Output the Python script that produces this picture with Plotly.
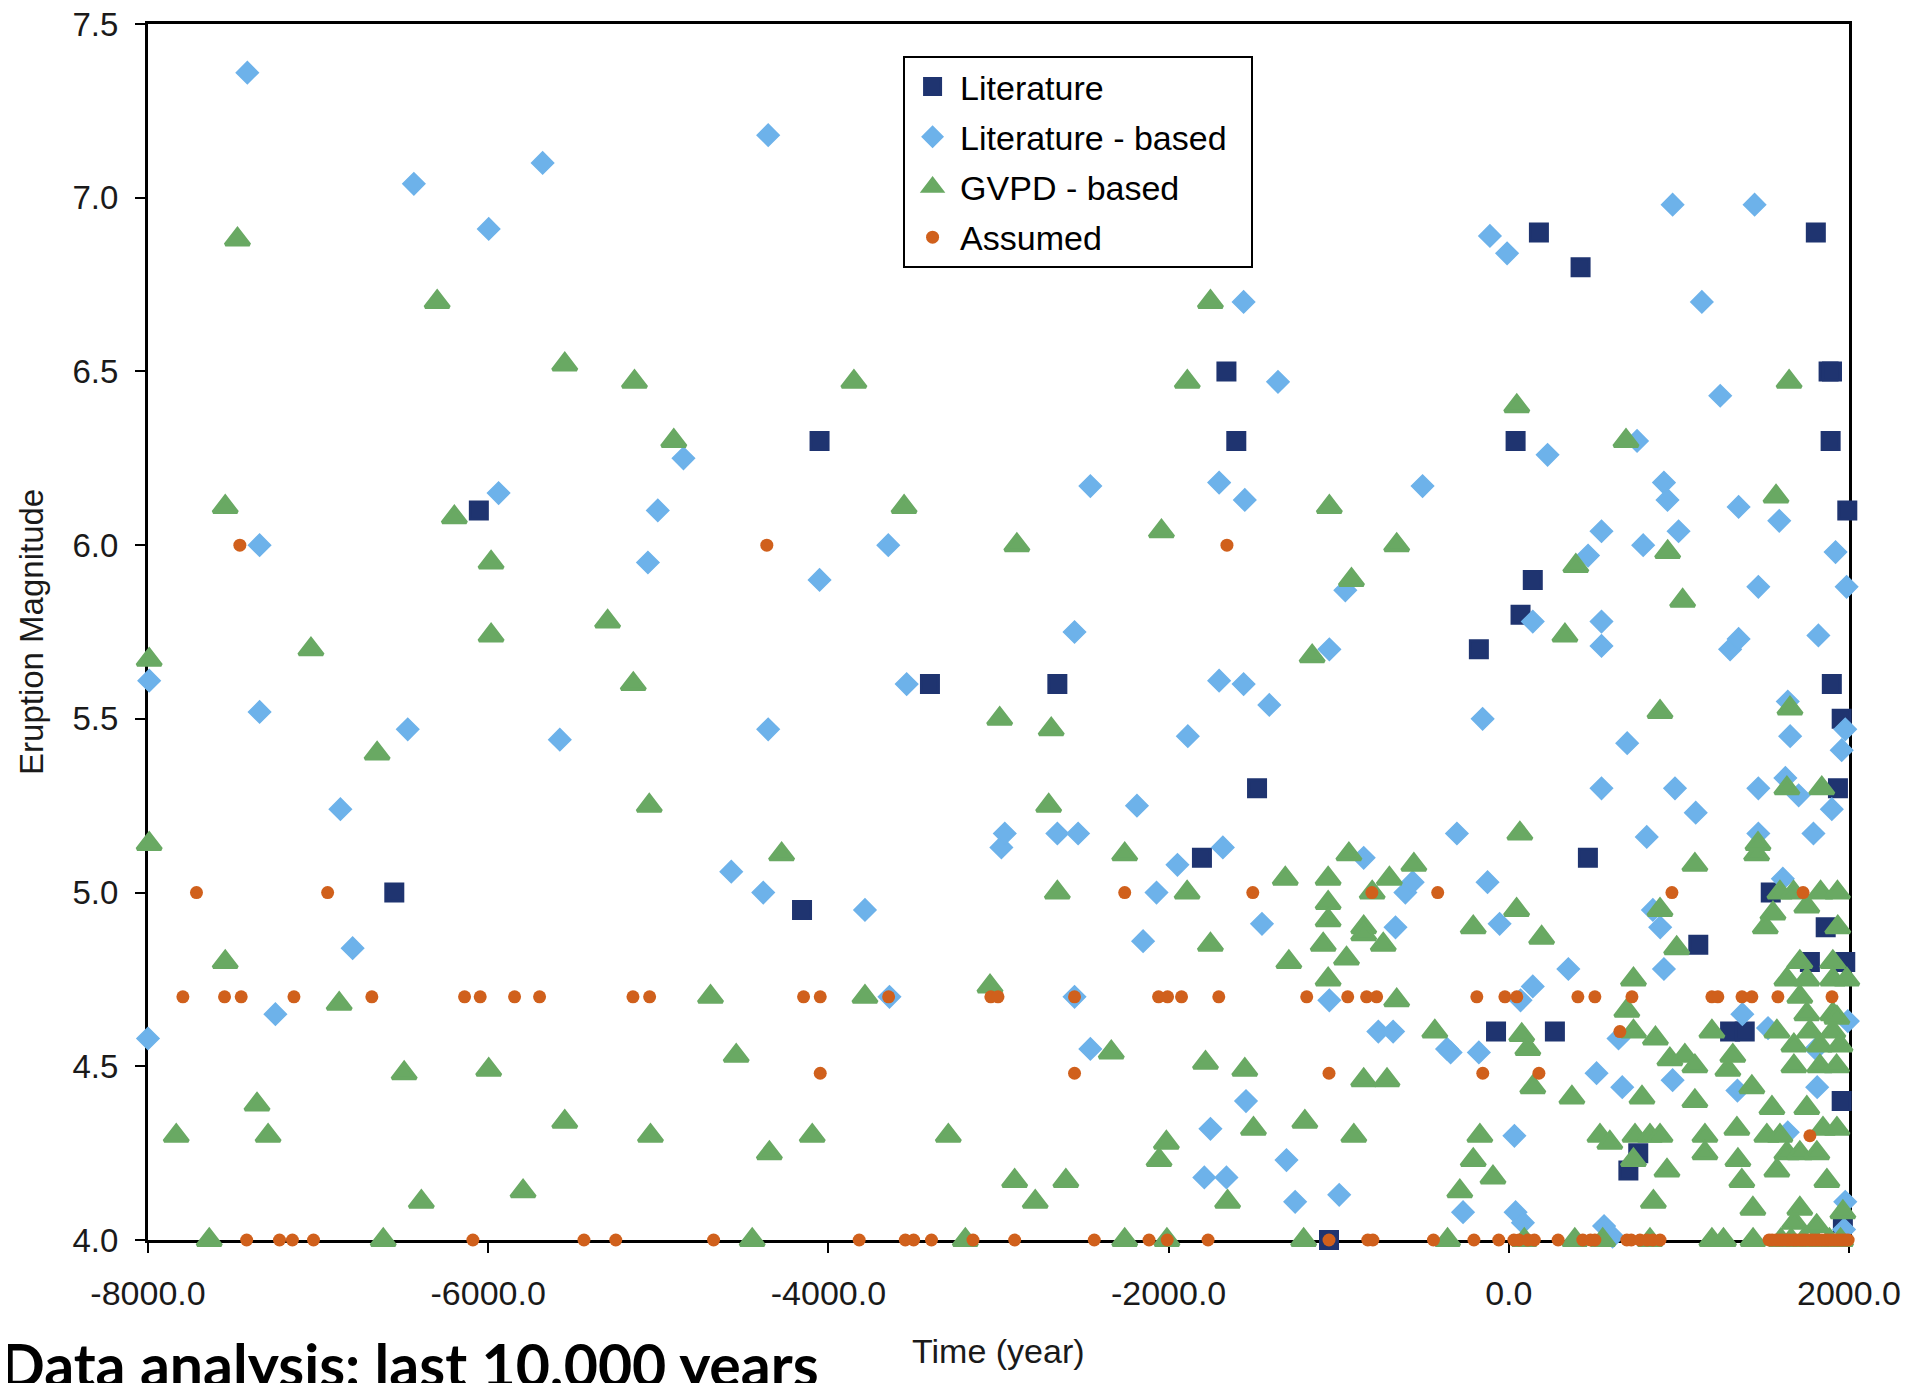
import plotly.graph_objects as go

# ---------------- data ----------------
series_names = ["Literature", "Literature - based", "GVPD - based", "Assumed"]

x_tick_vals = [-8000, -6000, -4000, -2000, 0, 2000]
x_tick_text = ["-8000.0", "-6000.0", "-4000.0", "-2000.0", "0.0", "2000.0"]
y_tick_vals = [4.0, 4.5, 5.0, 5.5, 6.0, 6.5, 7.0, 7.5]
y_tick_text = ["4.0", "4.5", "5.0", "5.5", "6.0", "6.5", "7.0", "7.5"]

lit_year = [-6552, -6055, -4155, -4052, -3403, -2654, -1804, -1660, -1602, -1480,
            -1057, -176, -75, 40, 69, 141, 177, 271, 422, 465,
            703, 761, 1114, 1301, 1387, 1540, 1770, 1805, 1863, 1880,
            1900, 1892, 1899, 1935, 1957, 1957, 1964, 1978, 1990]
lit_mag = [5.0, 6.1, 4.95, 6.3, 5.6, 5.6, 5.1, 6.5, 6.3, 5.3,
           4.0, 5.7, 4.6, 6.3, 5.8, 5.9, 6.9, 4.6, 6.8, 5.1,
           4.2, 4.25, 4.85, 4.6, 4.6, 5.0, 4.8, 6.9, 4.9, 6.5,
           6.5, 6.3, 5.6, 5.3, 5.5, 4.4, 4.05, 4.8, 6.1]

litb_year = [-8000, -7993, -7416, -7344, -7344, -7251, -6869, -6797, -6473, -6437,
             -5997, -5939, -5680, -5579, -5061, -5003, -4852, -4571, -4383, -4354,
             -4354, -4052, -3785, -3648, -3641, -3540, -2983, -2963, -2654, -2532,
             -2553, -2553, -2460, -2460, -2186, -2150, -2071, -1948, -1887, -1790,
             -1754, -1703, -1703, -1681, -1660, -1559, -1552, -1559, -1545, -1451,
             -1408, -1357, -1307, -1256, -1055, -1055, -997, -961, -853, -767,
             -680, -666, -608, -565, -507, -363, -342, -305, -269, -176,
             -154, -125, -111, -54, -10, 33, 40, 69, 83, 141,
             141, 228, 350, 466, 516, 545, 545, 545, 545, 560,
             610, 645, 667, 696, 754, 790, 811, 847, 890, 912,
             912, 933, 963, 963, 977, 998, 1099, 1135, 1243, 1301,
             1344, 1351, 1351, 1373, 1445, 1467, 1467, 1467, 1524, 1590,
             1611, 1626, 1640, 1640, 1654, 1704, 1791, 1805, 1813, 1820,
             1899, 1921, 1957, 1971, 1978, 1978, 1986, 1993]
litb_mag = [4.58, 5.61, 7.36, 6.0, 5.52, 4.65, 5.24, 4.84, 5.47, 7.04,
            6.91, 6.15, 7.1, 5.44, 5.95, 6.1, 6.25, 5.06, 5.0, 7.18,
            5.47, 5.9, 4.95, 6.0, 4.7, 5.6, 5.13, 5.17, 5.17, 5.17,
            5.75, 4.7, 6.17, 4.55, 5.25, 4.86, 5.0, 5.08, 5.45, 4.18,
            4.32, 6.18, 5.61, 5.13, 4.18, 6.7, 6.13, 5.6, 4.4, 4.91,
            5.54, 6.47, 4.23, 4.11, 5.7, 4.69, 4.13, 5.87, 5.1, 4.6,
            4.6, 4.9, 5.0, 5.03, 6.17, 4.55, 4.54, 5.17, 4.08, 4.54,
            5.5, 5.03, 6.89, 4.91, 6.84, 4.3, 4.08, 4.69, 4.05, 5.78,
            4.73, 6.26, 4.78, 5.97, 4.48, 6.04, 5.78, 5.71, 5.3, 4.04,
            4.01, 4.58, 4.44, 5.43, 6.3, 6.0, 5.16, 4.95, 4.9, 6.18,
            4.78, 6.13, 6.98, 4.46, 5.3, 6.04, 5.23, 6.7, 6.43, 5.7,
            4.43, 6.11, 5.73, 4.65, 6.98, 5.88, 5.3, 5.17, 4.61, 6.07,
            5.04, 5.33, 5.55, 4.31, 5.45, 5.28, 5.17, 4.55, 4.44, 5.74,
            5.24, 5.98, 5.41, 4.03, 5.47, 4.11, 5.88, 4.63]

gvpd_year = [-7993, -7993, -7834, -7640, -7546, -7546, -7474, -7359, -7294, -7042,
             -6876, -6653, -6617, -6494, -6393, -6300, -6199, -5997, -5983, -5983,
             -5795, -5550, -5550, -5298, -5147, -5140, -5053, -5046, -4909, -4693,
             -4542, -4448, -4347, -4275, -4095, -3850, -3785, -3555, -3295, -3195,
             -3050, -2993, -2905, -2892, -2784, -2705, -2690, -2654, -2604, -2337,
             -2258, -2258, -2056, -2042, -2013, -2010, -1891, -1890, -1783, -1754,
             -1754, -1653, -1552, -1501, -1314, -1293, -1206, -1199, -1156, -1091,
             -1062, -1062, -1062, -1062, -1055, -954, -940, -925, -911, -853,
             -853, -853, -803, -738, -716, -702, -659, -659, -558, -435,
             -360, -288, -209, -209, -170, -93,
             46, 47, 65, 76, 91, 112, 141, 193, 330, 371,
             388, 394, 536, 552, 594, 689, 694, 733, 733, 733,
             742, 783, 830, 830, 850, 862, 889, 889, 889, 930,
             934, 947, 987, 1022, 1035, 1094, 1094, 1094, 1153, 1153,
             1194, 1194, 1262, 1288, 1317, 1341, 1347, 1370, 1429, 1435,
             1436, 1457, 1465, 1508, 1517, 1547, 1553, 1571, 1576, 1576,
             1594, 1594, 1600, 1635, 1635, 1635, 1648, 1653, 1660, 1674,
             1676, 1676, 1680, 1711, 1711, 1711, 1711, 1733, 1752, 1752,
             1752, 1752, 1770, 1800, 1810, 1811, 1829, 1829, 1833, 1840,
             1847, 1870, 1885, 1905, 1905, 1905, 1905, 1927, 1929, 1929,
             1932, 1934, 1947, 1950, 1964, 1987]
gvpd_mag = [5.67, 5.14, 4.3, 4.0, 6.11, 4.8, 6.88, 4.39, 4.3, 5.7,
            4.68, 5.4, 4.0, 4.48, 4.11, 6.7, 6.08, 4.49, 5.95, 5.74,
            4.14, 6.52, 4.34, 5.78, 5.6, 6.47, 5.25, 4.3, 6.3, 4.7,
            4.53, 4.0, 4.25, 5.11, 4.3, 6.47, 4.7, 6.11, 4.3, 4.0,
            4.73, 5.5, 4.17, 6.0, 4.11, 5.25, 5.47, 5.0, 4.17, 4.54,
            5.11, 4.0, 4.23, 6.04, 4.28, 4.0, 5.0, 6.47, 4.51, 6.7,
            4.85, 4.11, 4.49, 4.32, 5.04, 4.8, 4.0, 4.34, 5.68, 4.85,
            5.04, 4.97, 4.92, 4.75, 6.11, 4.81, 5.11, 5.9, 4.3, 4.9,
            4.88, 4.46, 5.0, 4.85, 4.46, 5.04, 6.0, 4.69, 5.08, 4.6,
            4.0, 4.14, 4.9, 4.23, 4.3, 4.18,
            4.95, 6.4, 5.17, 4.59, 4.0, 4.55, 4.44, 4.87, 5.74, 4.41,
            4.0, 5.94, 4.3, 4.0, 4.28, 6.3, 4.66, 4.75, 4.6, 4.23,
            4.3, 4.41, 4.3, 4.0, 4.11, 4.58, 5.52, 4.95, 4.3, 4.2,
            5.98, 4.52, 4.84, 5.84, 4.53, 5.08, 4.5, 4.4, 4.3, 4.25,
            4.6, 4.0, 4.0, 4.49, 4.53, 4.32, 4.23, 4.17, 4.44, 4.09,
            4.0, 5.11, 5.14, 4.9, 4.3, 4.38, 4.94, 6.14, 4.6, 4.2,
            5.0, 4.3, 4.0, 5.3, 4.75, 4.25, 6.47, 5.53, 4.0, 5.0,
            4.56, 4.5, 4.05, 4.8, 4.7, 4.25, 4.09, 4.0, 4.96, 4.75,
            4.65, 4.38, 4.6, 4.0, 4.04, 4.25, 4.56, 4.5, 5.0, 5.3,
            4.32, 4.17, 4.0, 4.8, 4.75, 4.65, 4.6, 4.5, 4.32, 4.64,
            5.0, 4.9, 4.56, 4.0, 4.08, 4.75]

asm_year = [-7460, -4362, -1657,
            -7715, -6944, -2258, -1505, -805, -418, 959, 1730,
            -7795, -7550, -7452, -7142, -6684, -6139, -6047, -5845, -5698, -5149,
            -5051, -4146, -4048, -3646, -3045, -3003, -2553, -2059, -2006, -1924,
            -1705, -1188, -947, -836, -777, -188, -23, 47, 406, 506,
            724, 1194, 1229, 1371, 1429, 1582, 1900,
            653,
            -4048, -2553, -1057, -153, 177,
            1770,
            -7420, -7227, -7151, -7027, -6090, -5437, -5250, -4675, -3819, -3548,
            -3499, -3394, -3150, -2905, -2437, -2115, -2008, -1768, -1057, -829,
            -799, -443, -205, -59, 30, 60, 112, 150, 290, 435,
            480, 506, 694, 720, 771, 812, 847, 889, 1530, 1548,
            1571, 1592, 1610, 1633, 1650, 1672, 1690, 1712, 1728, 1745,
            1768, 1785, 1803, 1822, 1840, 1858, 1875, 1893, 1912, 1930,
            1947, 1963, 1980, 1995]
asm_mag = [6.0, 6.0, 6.0,
           5.0, 5.0, 5.0, 5.0, 5.0, 5.0, 5.0, 5.0,
           4.7, 4.7, 4.7, 4.7, 4.7, 4.7, 4.7, 4.7, 4.7, 4.7,
           4.7, 4.7, 4.7, 4.7, 4.7, 4.7, 4.7, 4.7, 4.7, 4.7,
           4.7, 4.7, 4.7, 4.7, 4.7, 4.7, 4.7, 4.7, 4.7, 4.7,
           4.7, 4.7, 4.7, 4.7, 4.7, 4.7, 4.7,
           4.6,
           4.48, 4.48, 4.48, 4.48, 4.48,
           4.3,
           4.0, 4.0, 4.0, 4.0, 4.0, 4.0, 4.0, 4.0, 4.0, 4.0,
           4.0, 4.0, 4.0, 4.0, 4.0, 4.0, 4.0, 4.0, 4.0, 4.0,
           4.0, 4.0, 4.0, 4.0, 4.0, 4.0, 4.0, 4.0, 4.0, 4.0,
           4.0, 4.0, 4.0, 4.0, 4.0, 4.0, 4.0, 4.0, 4.0, 4.0,
           4.0, 4.0, 4.0, 4.0, 4.0, 4.0, 4.0, 4.0, 4.0, 4.0,
           4.0, 4.0, 4.0, 4.0, 4.0, 4.0, 4.0, 4.0, 4.0, 4.0,
           4.0, 4.0, 4.0, 4.0]

# ---------------- styling ----------------
COL_LIT = "#1F3470"
COL_LITB = "#6DB2EA"
COL_GVPD = "#69A963"
COL_ASM = "#D0601C"
FONT = "Liberation Sans, Arial, sans-serif"
NBSP = "\u00a0"

fig = go.Figure()
fig.add_trace(go.Scatter(x=lit_year, y=lit_mag, mode="markers", name=series_names[0],
                         legendgroup="g1",
                         marker=dict(symbol="square", size=17, color=COL_LIT,
                                     line=dict(width=3, color=COL_LIT)),
                         cliponaxis=False))
fig.add_trace(go.Scatter(x=litb_year, y=litb_mag, mode="markers",
                         name=series_names[1] + NBSP * 2, legendgroup="g2",
                         marker=dict(symbol="diamond", size=17, color=COL_LITB,
                                     line=dict(width=1.5, color=COL_LITB)),
                         cliponaxis=False))
fig.add_trace(go.Scatter(x=gvpd_year, y=gvpd_mag, mode="markers", name=series_names[2],
                         legendgroup="g3",
                         marker=dict(symbol="triangle-up", size=21, color=COL_GVPD,
                                     line=dict(width=3.5, color=COL_GVPD)),
                         cliponaxis=False))
fig.add_trace(go.Scatter(x=asm_year, y=asm_mag, mode="markers", name=series_names[3],
                         legendgroup="g4",
                         marker=dict(symbol="circle", size=13, color=COL_ASM,
                                     line=dict(width=0)),
                         cliponaxis=False))

axis_common = dict(
    showline=True, linecolor="black", linewidth=3, mirror=True,
    ticks="outside", ticklen=10, tickwidth=2, tickcolor="black",
    showgrid=False, zeroline=False, automargin=False,
    layer="below traces", ticklabeloverflow="allow",
)

fig.update_layout(
    width=1921, height=1383,
    margin=dict(l=140, r=80, t=16, b=151),
    paper_bgcolor="white", plot_bgcolor="white",
    showlegend=True,
    legend=dict(
        x=0.4439, y=0.9737, xanchor="left", yanchor="top",
        bgcolor="white", bordercolor="black", borderwidth=2,
        font=dict(family=FONT, size=34, color="black"),
        itemsizing="trace", itemwidth=45,
        traceorder="grouped", tracegroupgap=3,
    ),
    xaxis=dict(range=[-8000, 2000], tickmode="array", tickvals=x_tick_vals,
               ticktext=x_tick_text, ticklabelstandoff=11,
               tickfont=dict(family=FONT, size=34, color="#1a1a1a"), **axis_common),
    yaxis=dict(range=[4.0, 7.5], tickmode="array", tickvals=y_tick_vals,
               ticktext=y_tick_text, ticklabelstandoff=10,
               tickfont=dict(family=FONT, size=33, color="#1a1a1a"), **axis_common),
    annotations=[
        dict(text="Time (year)", xref="paper", yref="paper", x=0.5, y=-0.0913,
             xanchor="center", yanchor="middle", showarrow=False,
             font=dict(family=FONT, size=34, color="#1a1a1a")),
        dict(text="Eruption Magnitude", xref="paper", yref="paper", x=-0.0688, y=0.5,
             xanchor="center", yanchor="middle", textangle=-90, showarrow=False,
             font=dict(family=FONT, size=33, color="#1a1a1a")),
        dict(text="<b>Data analysis: last 10,000 years</b>", xref="paper", yref="paper",
             x=-0.0883, y=-0.0718, xanchor="left", yanchor="top", showarrow=False,
             font=dict(family="Lato, Carlito, sans-serif", size=59, color="black")),
    ],
)

fig.write_html("out.html")
